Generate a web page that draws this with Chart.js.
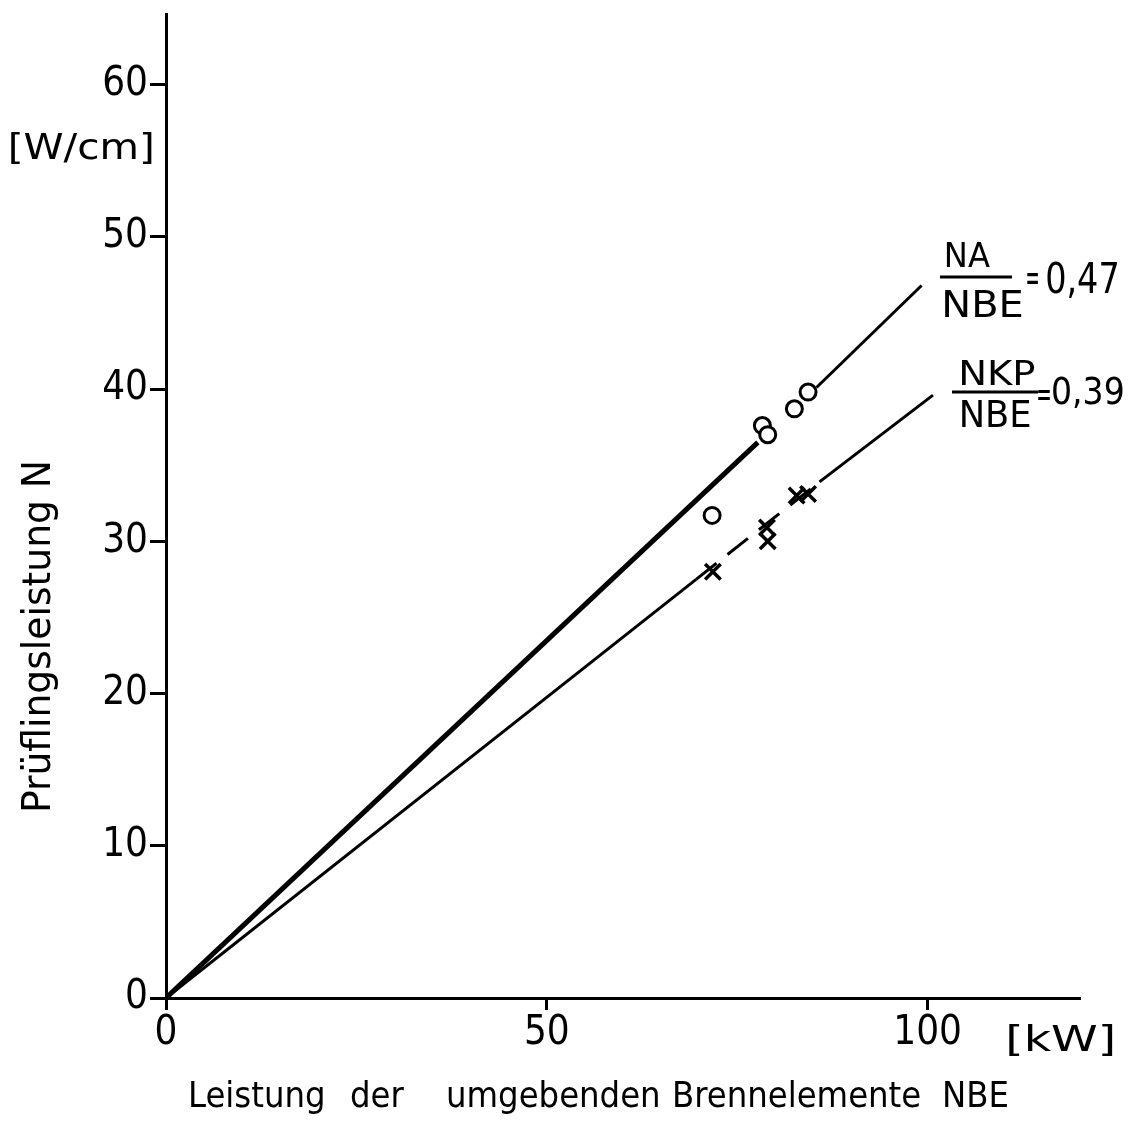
<!DOCTYPE html>
<html>
<head>
<meta charset="utf-8">
<script src="https://cdn.jsdelivr.net/npm/chart.js@4.4.1/dist/chart.umd.min.js"></script>
<style>
html,body{margin:0;padding:0;background:#fff;}
#wrap{width:1135px;height:1122px;}
</style>
</head>
<body>
<div id="wrap"><canvas id="c" width="1135" height="1122"></canvas></div>
<script>
// ---- data ----
const xTicks = [0, 50, 100];
const yTicks = [0, 10, 20, 30, 40, 50, 60];
const naPointsX = [71.7, 78.3, 79.0, 82.5, 84.3];
const naPointsY = [31.7, 37.6, 37.0, 38.7, 39.8];
const nkpPointsX = [71.8, 78.9, 79.0, 82.8, 84.3];
const nkpPointsY = [28.0, 30.9, 30.0, 33.0, 33.1];
// fitted lines (drawn pieces, with the gap / dashed part of the original)
const naLineLowX = [0, 77.7];
const naLineLowY = [0, 36.5];
const naLineHighX = [85.4, 99.2];
const naLineHighY = [40.1, 46.8];
const nkpLineLowX = [0, 69.6];
const nkpLineLowY = [0, 27.5];
const nkpDashX = [69.6, 85.8];
const nkpDashY = [27.5, 33.9];
const nkpLineHighX = [85.8, 100.7];
const nkpLineHighY = [33.9, 39.6];
const xTitle = "Leistung der umgebenden Brennelemente NBE";
const yTitle = "Prüflingsleistung N";
const yUnit = "[W/cm]";
const xUnit = "[kW]";

const zip = (xs, ys) => xs.map((x, i) => ({x: x, y: ys[i]}));
const FONT = '"DejaVu Sans Condensed", "Liberation Sans Narrow", "DejaVu Sans", sans-serif';

// draw text so that its ink box fills the given box
function fitInk(ctx, txt, x0, x1, y0, y1, size) {
  ctx.save();
  ctx.font = size + 'px ' + FONT;
  ctx.textAlign = 'left';
  ctx.textBaseline = 'alphabetic';
  const m = ctx.measureText(txt);
  const iw = m.actualBoundingBoxLeft + m.actualBoundingBoxRight;
  const ih = m.actualBoundingBoxAscent + m.actualBoundingBoxDescent;
  const sx = (x1 - x0) / iw, sy = (y1 - y0) / ih;
  ctx.translate(x0, y0);
  ctx.scale(sx, sy);
  ctx.fillText(txt, m.actualBoundingBoxLeft, m.actualBoundingBoxAscent);
  ctx.restore();
}

const annot = {
  id: 'annot',
  afterDraw(chart) {
    const ctx = chart.ctx;
    ctx.save();
    ctx.fillStyle = '#000';
    ctx.strokeStyle = '#000';
    // x title, words placed like the reference's wide spacing
    ctx.font = '36px ' + FONT;
    ctx.textBaseline = 'alphabetic';
    ctx.textAlign = 'left';
    const words = xTitle.split(' ');
    const wordLeft = [188, 350, 446, 672, 942];
    words.forEach((w, i) => { ctx.fillText(w, wordLeft[i], 1107); });
    // y title
    ctx.save();
    ctx.translate(50, 813);
    ctx.rotate(-Math.PI / 2);
    ctx.font = '39px ' + FONT;
    const yw = ctx.measureText(yTitle).width;
    ctx.scale(353 / yw, 1);
    ctx.fillText(yTitle, 0, 0);
    ctx.restore();
    // units
    fitInk(ctx, yUnit, 10, 152, 133, 165, 38);
    fitInk(ctx, xUnit, 1008, 1113, 1025, 1057, 38);
    // fraction NA/NBE
    fitInk(ctx, 'NA', 947, 990, 242, 267, 34);
    fitInk(ctx, 'NBE', 945, 1022, 290, 317, 36);
    ctx.lineWidth = 3;
    ctx.beginPath(); ctx.moveTo(940, 277); ctx.lineTo(1012, 277); ctx.stroke();
    fitInk(ctx, '=', 1027, 1038, 273, 284, 36);
    fitInk(ctx, '0,47', 1047, 1117, 260, 298, 40);
    // fraction NKP/NBE
    fitInk(ctx, 'NKP', 962, 1035, 360, 385, 34);
    fitInk(ctx, 'NBE', 962, 1030, 400, 427, 36);
    ctx.beginPath(); ctx.moveTo(952, 392); ctx.lineTo(1038, 392); ctx.stroke();
    fitInk(ctx, '=', 1038, 1050, 390, 400, 36);
    fitInk(ctx, '0,39', 1053, 1123, 377, 408, 38);
    ctx.restore();
  }
};

new Chart(document.getElementById('c'), {
  type: 'scatter',
  data: {
    datasets: [
      {data: zip(naLineLowX, naLineLowY), showLine: true, borderColor: '#000', borderWidth: 5, pointRadius: 0},
      {data: zip(naLineHighX, naLineHighY), showLine: true, borderColor: '#000', borderWidth: 3, pointRadius: 0},
      {data: zip(nkpLineLowX, nkpLineLowY), showLine: true, borderColor: '#000', borderWidth: 3, pointRadius: 0},
      {data: zip(nkpDashX, nkpDashY), showLine: true, borderColor: '#000', borderWidth: 3, borderDash: [26, 14], pointRadius: 0},
      {data: zip(nkpLineHighX, nkpLineHighY), showLine: true, borderColor: '#000', borderWidth: 3, pointRadius: 0},
      {data: zip(naPointsX, naPointsY), showLine: false, pointStyle: 'circle', pointRadius: 8, borderWidth: 3, borderColor: '#000', backgroundColor: '#fff'},
      {data: zip(nkpPointsX, nkpPointsY), showLine: false, pointStyle: 'crossRot', pointRadius: 11, borderWidth: 3.5, borderColor: '#000', backgroundColor: '#000'}
    ]
  },
  options: {
    responsive: false,
    animation: false,
    devicePixelRatio: 1,
    layout: {padding: {top: 10, right: 55, left: 0, bottom: 0}},
    plugins: {legend: {display: false}, tooltip: {enabled: false}},
    scales: {
      x: {
        type: 'linear', min: 0, max: 120,
        afterFit(s) { s.height = 124; s.paddingLeft = 0; s.paddingRight = 0; },
        afterBuildTicks(s) { s.ticks = xTicks.map(v => ({value: v})); },
        border: {display: true, color: '#000', width: 3},
        grid: {display: true, drawOnChartArea: false, drawTicks: true, tickLength: 12, tickWidth: 3, tickColor: '#000'},
        ticks: {color: '#000', font: {family: FONT, size: 40}, padding: 0, maxRotation: 0}
      },
      y: {
        type: 'linear', min: 0, max: 64.6,
        afterFit(s) { s.width = 166; s.paddingTop = 0; s.paddingBottom = 0; },
        afterBuildTicks(s) { s.ticks = yTicks.map(v => ({value: v})); },
        border: {display: true, color: '#000', width: 3},
        grid: {display: true, drawOnChartArea: false, drawTicks: true, tickLength: 16, tickWidth: 3, tickColor: '#000'},
        ticks: {color: '#000', font: {family: FONT, size: 40}, padding: 2}
      }
    }
  },
  plugins: [annot]
});
</script>
</body>
</html>
